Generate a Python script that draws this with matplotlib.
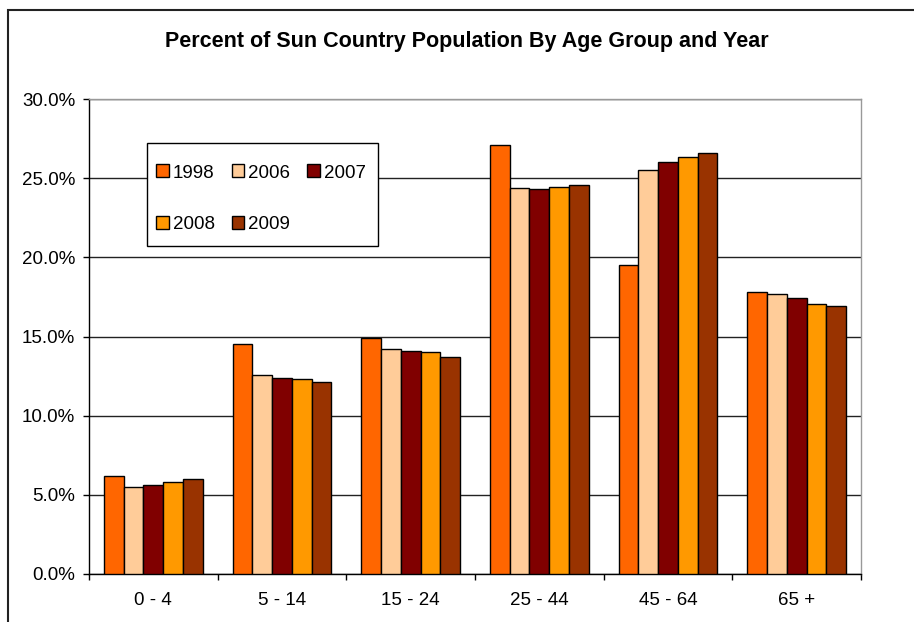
"""
Grouped bar chart: share of Sun Country population by age group, 1998 and 2006-2009.
"""

import numpy as np
import matplotlib.pyplot as plt
from matplotlib.patches import Rectangle
from matplotlib.ticker import FuncFormatter

plt.rcParams["font.family"] = ["Liberation Sans", "DejaVu Sans"]

age_groups = ["0 - 4", "5 - 14", "15 - 24", "25 - 44", "45 - 64", "65 +"]
years = ["1998", "2006", "2007", "2008", "2009"]

# percent of population per age group, one list per year
pct_1998 = [6.2, 14.5, 14.9, 27.1, 19.5, 17.8]
pct_2006 = [5.5, 12.55, 14.2, 24.4, 25.5, 17.7]
pct_2007 = [5.65, 12.4, 14.1, 24.3, 26.0, 17.45]
pct_2008 = [5.8, 12.3, 14.0, 24.45, 26.35, 17.05]
pct_2009 = [6.0, 12.15, 13.7, 24.55, 26.6, 16.95]

series = [pct_1998, pct_2006, pct_2007, pct_2008, pct_2009]
colors = ["#FF6600", "#FFCC99", "#800000", "#FF9900", "#993300"]

W, H = 914, 622


def px(x, y):
    """Pixel position (from top-left) to figure fraction."""
    return x / W, 1 - y / H


def main():
    fig = plt.figure(figsize=(W / 100, H / 100), dpi=100)
    ax = fig.add_axes([0.0974, 0.0772, 0.8446, 0.7636])

    n = len(series)
    width = 1 / 6.5
    x = np.arange(len(age_groups))
    bars = []
    for i, (vals, col, yr) in enumerate(zip(series, colors, years)):
        offs = (i - (n - 1) / 2) * width
        b = ax.bar(x + offs, vals, width, color=col, edgecolor="black",
                   linewidth=1.0, label=yr, zorder=3)
        bars.append(b)

    ax.set_xlim(-0.5, len(age_groups) - 0.5)
    ax.set_ylim(0, 30)
    ax.set_yticks(np.arange(0, 30.1, 5))
    ax.yaxis.set_major_formatter(FuncFormatter(lambda v, p: f"{v:.1f}%"))
    ax.grid(axis="y", color="#222222", linewidth=1.0, zorder=0)

    # category labels at centres, tick marks on the boundaries
    ax.set_xticks(x)
    ax.set_xticklabels(age_groups)
    ax.set_xticks(np.arange(-0.5, len(age_groups)), minor=True)
    ax.tick_params(axis="x", which="major", length=0, pad=13, labelsize=13.5)
    ax.tick_params(axis="x", which="minor", length=4, width=1, direction="out")
    ax.tick_params(axis="y", length=4, width=1, pad=6, labelsize=13.5)

    ax.spines["left"].set_color("black")
    ax.spines["bottom"].set_color("black")
    ax.spines["right"].set_color("#999999")
    ax.spines["top"].set_color("#999999")
    for s in ax.spines.values():
        s.set_linewidth(1.0)

    fig.text(*px(466.5, 42), "Percent of Sun Country Population By Age Group and Year",
             ha="center", va="center", fontsize=15.5, fontweight="bold")

    # legend box drawn separately so its padding can be set freely
    bx0, by0 = px(146.7, 245.7)
    bx1, by1 = px(377.7, 143.3)
    fig.patches.append(Rectangle((bx0, by0), bx1 - bx0, by1 - by0, transform=fig.transFigure,
                                 facecolor="white", edgecolor="black", linewidth=1.0,
                                 zorder=4))

    # row-major order for a 3-column legend
    order = [0, 3, 1, 4, 2]
    leg = fig.legend([bars[i] for i in order], [years[i] for i in order],
                     ncol=3, loc="upper left",
                     bbox_to_anchor=px(156.0, 164.5), bbox_transform=fig.transFigure,
                     borderaxespad=0, borderpad=0, fontsize=13.5, frameon=False,
                     handlelength=0.68, handleheight=0.68, handletextpad=0.21,
                     columnspacing=0.9, labelspacing=1.84)
    leg.set_zorder(5)

    # outer chart border
    fig.patches.append(Rectangle((0.00875, -0.1), 1.2, 1.0839, transform=fig.transFigure,
                                 fill=False, edgecolor="#222222", linewidth=1.5))

    fig.savefig("out.png", dpi=100)


if __name__ == "__main__":
    main()
